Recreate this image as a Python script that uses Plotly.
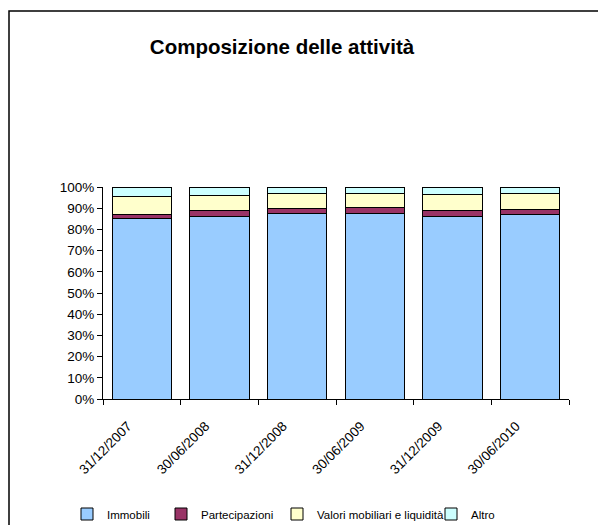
import plotly.graph_objects as go

categories = ["31/12/2007", "30/06/2008", "31/12/2008", "30/06/2009", "31/12/2009", "30/06/2010"]
immobili = [85.0, 86.3, 87.4, 87.4, 86.3, 87.2]
partecipazioni = [2.2, 2.5, 2.4, 2.7, 2.4, 2.4]
valori = [8.2, 7.2, 7.1, 6.9, 8.0, 7.2]
altro = [4.6, 4.0, 3.1, 3.0, 3.3, 3.2]

series = [
    ("Immobili", immobili, "#99CCFF", "legend2"),
    ("Partecipazioni", partecipazioni, "#993366", "legend3"),
    ("Valori mobiliari e liquidità", valori, "#FFFFCC", "legend4"),
    ("Altro", altro, "#CCFFFF", "legend5"),
]

FONT = "Liberation Sans, Arial, sans-serif"

fig = go.Figure()
for name, vals, color, lg in series:
    fig.add_trace(go.Bar(
        x=categories, y=vals, name=name, legend=lg, showlegend=True,
        marker=dict(color=color, line=dict(color="black", width=1)),
    ))

# plot area: x 103..569, y 187..399
W, H = 598, 525
L, R, T, B = 103, 29, 187, 126
pw, ph = W - L - R, H - T - B

def px(x):
    return (x - L) / pw

def py(y):
    return (H - B - y) / ph

leg_common = dict(orientation="h", xanchor="left", yanchor="middle",
                  xref="container", yref="container",
                  font=dict(family=FONT, size=11.5, color="black"),
                  bgcolor="rgba(0,0,0,0)", itemwidth=30)
legend_x = [67, 161, 277, 431]
ly = 1 - 514 / H

fig.update_layout(
    width=W, height=H,
    margin=dict(l=L, r=R, t=T, b=B, autoexpand=False),
    barmode="stack", bargap=0.235,
    paper_bgcolor="white", plot_bgcolor="white",
    font=dict(family=FONT, size=12, color="black"),
    showlegend=True,
    title=dict(text="<b>Composizione delle attività</b>", x=282 / W, xanchor="center",
               y=1 - 47 / H, yanchor="middle", font=dict(family=FONT, size=20.5, color="black")),
    xaxis=dict(showline=True, linecolor="black", linewidth=1, ticks="outside", ticklen=5,
               tickcolor="black", tickson="boundaries", tickangle=-45,
               ticklabelshift=-14, ticklabelstandoff=13,
               tickfont=dict(family=FONT, size=13.5), showgrid=False),
    yaxis=dict(range=[0, 100], tickvals=list(range(0, 101, 10)),
               ticktext=[f"{v}%" for v in range(0, 101, 10)],
               showline=True, linecolor="black", linewidth=1, ticks="outside", ticklen=5,
               tickcolor="black", showgrid=False, tickfont=dict(family=FONT, size=13.5)),
    legend2=dict(x=legend_x[0] / W, y=ly, **leg_common),
    legend3=dict(x=legend_x[1] / W, y=ly, **leg_common),
    legend4=dict(x=legend_x[2] / W, y=ly, **leg_common),
    legend5=dict(x=legend_x[3] / W, y=ly, **leg_common),
    shapes=[dict(type="rect", xref="paper", yref="paper",
                 x0=px(9), x1=px(602), y0=py(530), y1=py(11),
                 line=dict(color="black", width=1.5), fillcolor="rgba(0,0,0,0)")],
)

fig.write_html("out.html")
